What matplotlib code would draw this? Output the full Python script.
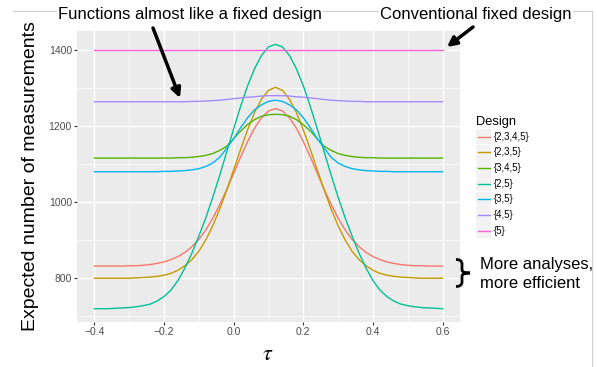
import matplotlib.pyplot as plt
from matplotlib.path import Path
from matplotlib.patches import PathPatch, Rectangle
from matplotlib.lines import Line2D

plt.rcParams['font.family'] = ['Liberation Sans', 'DejaVu Sans']
plt.rcParams['mathtext.fontset'] = 'stix'

tau = [-0.4, -0.38, -0.36, -0.34, -0.32, -0.3, -0.28, -0.26, -0.24, -0.22,
       -0.2, -0.18, -0.16, -0.14, -0.12, -0.1, -0.08, -0.06, -0.04, -0.02,
       0.0, 0.02, 0.04, 0.06, 0.08, 0.1, 0.12, 0.14, 0.16, 0.18,
       0.2, 0.22, 0.24, 0.26, 0.28, 0.3, 0.32, 0.34, 0.36, 0.38,
       0.4, 0.42, 0.44, 0.46, 0.48, 0.5, 0.52, 0.54, 0.56, 0.58, 0.6]

n_2345 = [832, 832, 832, 832, 832, 833, 833, 834, 836, 839,
          843, 849, 857, 868, 883, 902, 927, 958, 994, 1033,
          1076, 1119, 1159, 1195, 1222, 1240, 1246, 1240, 1222, 1195,
          1159, 1119, 1076, 1033, 994, 958, 927, 902, 883, 868,
          857, 849, 843, 839, 836, 834, 833, 833, 832, 832, 832]
n_235 = [800, 800, 800, 800, 800, 800, 801, 802, 803, 805,
         808, 813, 821, 833, 849, 871, 901, 938, 982, 1032,
         1085, 1139, 1190, 1236, 1271, 1294, 1302, 1294, 1271, 1236,
         1190, 1139, 1085, 1032, 982, 938, 901, 871, 849, 833,
         821, 813, 808, 805, 803, 802, 801, 800, 800, 800, 800]
n_345 = [1116, 1116, 1116, 1116, 1116, 1116, 1116, 1116, 1116, 1116,
         1116, 1116, 1117, 1117, 1118, 1120, 1123, 1128, 1136, 1147,
         1167, 1187, 1204, 1217, 1226, 1230, 1231, 1230, 1226, 1217,
         1204, 1187, 1167, 1147, 1136, 1128, 1123, 1120, 1118, 1117,
         1117, 1116, 1116, 1116, 1116, 1116, 1116, 1116, 1116, 1116, 1116]
n_25 = [720, 720, 720, 721, 722, 723, 725, 728, 732, 740,
        752, 769, 794, 827, 866, 911, 959, 1013, 1071, 1132,
        1193, 1252, 1306, 1351, 1386, 1408, 1415, 1408, 1386, 1351,
        1306, 1252, 1193, 1132, 1071, 1013, 959, 911, 866, 827,
        794, 769, 752, 740, 732, 728, 725, 723, 722, 721, 720]
n_35 = [1080, 1080, 1080, 1080, 1080, 1080, 1080, 1080, 1080, 1080,
        1081, 1081, 1082, 1083, 1085, 1088, 1094, 1103, 1118, 1142,
        1167, 1196, 1222, 1243, 1256, 1265, 1268, 1265, 1256, 1243,
        1222, 1196, 1167, 1142, 1118, 1103, 1094, 1088, 1085, 1083,
        1082, 1081, 1081, 1080, 1080, 1080, 1080, 1080, 1080, 1080, 1080]
n_45 = [1264, 1264, 1264, 1264, 1264, 1264, 1264, 1264, 1264, 1264,
        1264, 1264, 1264, 1264, 1265, 1265, 1266, 1267, 1268, 1270,
        1272, 1274, 1276, 1277, 1279, 1280, 1280, 1280, 1279, 1277,
        1276, 1274, 1272, 1270, 1268, 1267, 1266, 1265, 1265, 1264,
        1264, 1264, 1264, 1264, 1264, 1264, 1264, 1264, 1264, 1264, 1264]
tau_5 = [-0.4, 0.6]
n_5 = [1400, 1400]

designs = ['{2,3,4,5}', '{2,3,5}', '{3,4,5}', '{2,5}', '{3,5}', '{4,5}', '{5}']
colors = ['#F8766D', '#C49A00', '#53B400', '#00C094', '#00B6EB', '#A58AFF', '#FB61D7']
series = [(tau, n_2345), (tau, n_235), (tau, n_345), (tau, n_25),
          (tau, n_35), (tau, n_45), (tau_5, n_5)]

W, H = 597, 367


def fx(x):
    return x / W


def fy(y):
    return 1 - y / H


fig = plt.figure(figsize=(W / 100, H / 100), dpi=100)
ax = fig.add_axes([fx(77), fy(322), (460 - 77) / W, (322 - 31) / H])

ax.set_facecolor('#EBEBEB')
for (xs, ys), c in zip(series, colors):
    ax.plot(xs, ys, color=c, lw=1.0, zorder=3, solid_joinstyle='round')

ax.set_xlim(-0.45, 0.65)
ax.set_ylim(685, 1450)
ax.set_xticks([-0.4, -0.2, 0.0, 0.2, 0.4, 0.6])
ax.set_xticklabels(['\u22120.4', '\u22120.2', '0.0', '0.2', '0.4', '0.6'])
ax.set_xticks([-0.3, -0.1, 0.1, 0.3, 0.5], minor=True)
ax.set_yticks([800, 1000, 1200, 1400])
ax.set_yticks([700, 900, 1100, 1300], minor=True)
ax.grid(which='major', color='white', lw=1.0)
ax.grid(which='minor', color='white', lw=0.5)
ax.set_axisbelow(True)
for s in ax.spines.values():
    s.set_visible(False)
ax.tick_params(which='major', length=2.2, width=0.8, color='#333333',
               labelsize=7.5, labelcolor='#4D4D4D', pad=1.5)
ax.tick_params(which='minor', length=0)

fig.text(fx(31), fy(176), 'Expected number of measurements', rotation=90,
         ha='center', va='center', fontsize=14)
fig.text(fx(268), fy(355), r'$\tau$', ha='center', va='center', fontsize=16)

# legend drawn by hand
fig.text(fx(476), fy(122), 'Design', ha='left', va='center', fontsize=9.3)
for i, (lab, c) in enumerate(zip(designs, colors)):
    yc = 136.7 + i * 15.67
    fig.patches.append(Rectangle((fx(476), fy(yc + 7.6)), 15 / W, 15.2 / H,
                                 transform=fig.transFigure, facecolor='#F2F2F2',
                                 edgecolor='none'))
    fig.lines.append(Line2D([fx(477.5), fx(489.5)], [fy(yc), fy(yc)],
                            transform=fig.transFigure, color=c, lw=1.0))
    fig.text(fx(494), fy(yc), lab, ha='left', va='center', fontsize=7)

# border of the pasted plot
fig.lines.append(Line2D([fx(13), fx(591.5)], [fy(11), fy(11)],
                        transform=fig.transFigure, color='#CFCFCF', lw=0.8))
fig.lines.append(Line2D([fx(591.5), fx(591.5)], [fy(11), 0],
                        transform=fig.transFigure, color='#CFCFCF', lw=0.8))

box = dict(facecolor='white', edgecolor='none', pad=1)
fig.text(fx(58), fy(15), 'Functions almost like a fixed design', ha='left',
         va='center', fontsize=12, bbox=box)
fig.text(fx(380), fy(15), 'Conventional fixed design', ha='left',
         va='center', fontsize=12, bbox=box)

arrow = dict(arrowstyle='-|>', mutation_scale=14, lw=2.5, color='black',
             shrinkA=0, shrinkB=0)
fig.add_artist(plt.Annotation('', xy=(fx(180), fy(98)), xytext=(fx(153), fy(28)),
                              xycoords='figure fraction', textcoords='figure fraction',
                              arrowprops=arrow))
fig.add_artist(plt.Annotation('', xy=(fx(447), fy(47)), xytext=(fx(473), fy(27)),
                              xycoords='figure fraction', textcoords='figure fraction',
                              arrowprops=arrow))

# brace and note
pts = [(456, 259.5), (462, 259.5), (462, 264), (462, 270), (462, 273), (470, 273),
       (462, 273), (462, 276), (462, 282), (462, 286.5), (456, 286.5)]
codes = [Path.MOVETO, Path.CURVE3, Path.CURVE3, Path.LINETO, Path.CURVE3, Path.CURVE3,
         Path.CURVE3, Path.CURVE3, Path.LINETO, Path.CURVE3, Path.CURVE3]
brace = Path([(fx(x), fy(y)) for x, y in pts], codes)
fig.patches.append(PathPatch(brace, transform=fig.transFigure, facecolor='none',
                             edgecolor='black', lw=2.0))
fig.text(fx(480), fy(264), 'More analyses,', ha='left', va='center', fontsize=12)
fig.text(fx(480), fy(283.5), 'more efficient', ha='left', va='center', fontsize=12)

fig.savefig('out.png', dpi=100)
